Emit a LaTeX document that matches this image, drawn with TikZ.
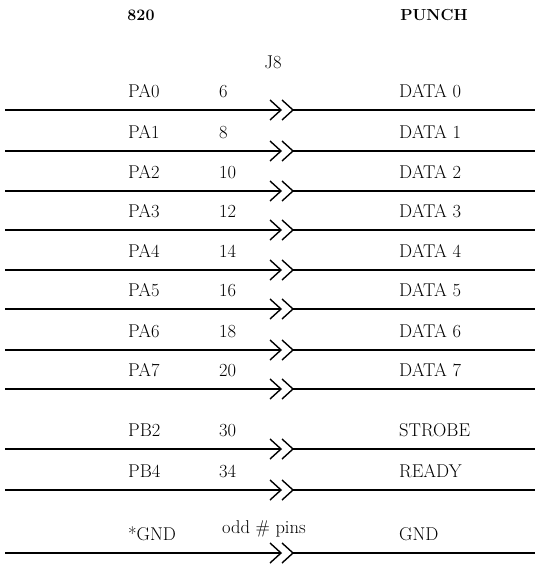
\documentclass[tikz,border=0pt]{standalone}
\begin{document}
\begin{tikzpicture}[x=1pt,y=-1pt,
  wire/.style={line width=1.3pt},
  chev/.style={line width=1.4pt},
  lbl/.style={anchor=base west, inner sep=0pt, font=\fontsize{18.5}{22}\selectfont},
  ttl/.style={anchor=base, inner sep=0pt, font=\fontsize{16}{19}\selectfont\bfseries}]
\useasboundingbox (0,0) rectangle (535,565);
\node[ttl] (t820) at (141,20) {820};
\node[ttl] (tpunch) at (434,20) {PUNCH};
\node[lbl, anchor=base] (j8) at (273,68) {J8};
\foreach \y/\l/\n/\r [count=\i] in {110/PA0/6/DATA 0, 151/PA1/8/DATA 1, 191/PA2/10/DATA 2, 230/PA3/12/DATA 3, 270/PA4/14/DATA 4, 309/PA5/16/DATA 5, 350/PA6/18/DATA 6, 389/PA7/20/DATA 7, 449/PB2/30/STROBE, 490/PB4/34/READY}{
  \coordinate (a\i) at (5,\y);
  \coordinate (b\i) at (281,\y);
  \coordinate (c\i) at (293,\y);
  \coordinate (e\i) at (535,\y);
  \node[lbl] (l\i) at (128,\y-13) {\l};
  \node[lbl] (n\i) at (219,\y-13) {\n};
  \node[lbl] (r\i) at (399,\y-13) {\r};
  \draw[wire] (a\i) -- (b\i);
  \draw[wire] (c\i) -- (e\i);
  \draw[chev] ([shift={(-11,-10)}]b\i) -- (b\i) -- ([shift={(-11,10)}]b\i);
  \draw[chev] ([shift={(-11,-10)}]c\i) -- (c\i) -- ([shift={(-11,10)}]c\i);
}
\coordinate (ag) at (5,553);
\coordinate (bg) at (281,553);
\coordinate (cg) at (293,553);
\coordinate (eg) at (535,553);
\node[lbl] (lg) at (128,540) {*GND};
\node[lbl] (ng) at (222,533) {odd \# pins};
\node[lbl] (rg) at (399,540) {GND};
\draw[wire] (ag) -- (bg);
\draw[wire] (cg) -- (eg);
\draw[chev] ([shift={(-11,-10)}]bg) -- (bg) -- ([shift={(-11,10)}]bg);
\draw[chev] ([shift={(-11,-10)}]cg) -- (cg) -- ([shift={(-11,10)}]cg);
\end{tikzpicture}
\end{document}
